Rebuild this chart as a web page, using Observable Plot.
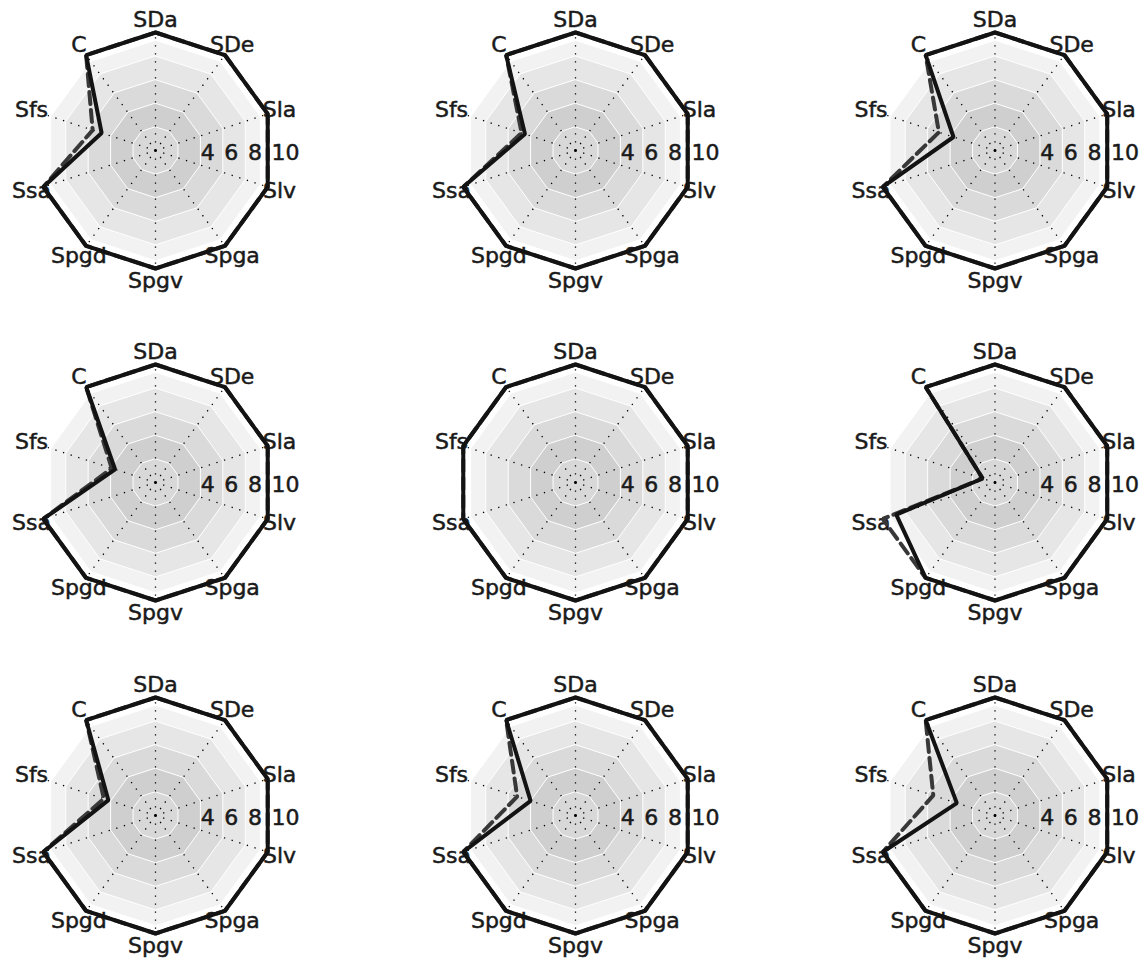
<!DOCTYPE html>
<html><head><meta charset="utf-8">
<script src="https://cdn.jsdelivr.net/npm/d3@7"></script>
<script src="https://cdn.jsdelivr.net/npm/@observablehq/plot@0.6"></script>
<style>html,body{margin:0;padding:0;background:#fff}svg{display:block}</style>
</head><body><div id="chart"></div>
<script>
// ---- data ----
const axes = ["SDa","SDe","Sla","Slv","Spga","Spgv","Spgd","Ssa","Sfs","C"];
const ringValues = [2, 4, 6, 8];
const bandEdges = [9.3, 8, 6, 4, 2];
const tickLabels = [4, 6, 8, 10];
const spokeLength = 9.6;
const labelRadius = 11.05;

// values per panel, in axis order (solid series, dashed series)
const solid1  = [10,10,10,10,10,10,10,10,4.8,10];
const dashed1 = [10,10,10,10,10,10,10,10,5.6,10];
const solid2  = [10,10,10,10,10,10,10,10,4.5,10];
const dashed2 = [10,10,10,10,10,10,10,10,4.8,10];
const solid3  = [10,10,10,10,10,10,10,10,3.7,10];
const dashed3 = [10,10,10,10,10,10,10,10,5.0,10];
const solid4  = [10,10,10,10,10,10,10,10,3.6,10];
const dashed4 = [10,10,10,10,10,10,10,10,3.9,10];
const solid5  = [10,10,10,10,10,10,10,10,10,10];
const dashed5 = [10,10,10,10,10,10,10,10,10,10];
const solid6  = [10,10,10,10,10,10,10,8.8,1.1,10];
const dashed6 = [10,10,10,10,10,10,10,10,1.1,10];
const solid7  = [10,10,10,10,10,10,10,10,4.2,10];
const dashed7 = [10,10,10,10,10,10,10,10,4.6,10];
const solid8  = [10,10,10,10,10,10,10,10,4.0,10];
const dashed8 = [10,10,10,10,10,10,10,10,5.2,10];
const solid9  = [10,10,10,10,10,10,10,10,3.4,10];
const dashed9 = [10,10,10,10,10,10,10,10,5.5,10];

const solidSeries  = [solid1, solid2, solid3, solid4, solid5, solid6, solid7, solid8, solid9];
const dashedSeries = [dashed1, dashed2, dashed3, dashed4, dashed5, dashed6, dashed7, dashed8, dashed9];

// ---- layout ----
const W = 1142, H = 961;
const u = 11.8;                       // pixels per value unit
const colCenters = [155, 575, 994.5];
const rowCenters = [150, 482, 815];
const bandColors = ["#f2f2f2", "#e6e6e6", "#dadada", "#cfcfcf", "#d8d8d8"];

const n = axes.length;
const ang = i => 2 * Math.PI * i / n;
function pt(panel, v, i) {
  const c = panel % 3, r = Math.floor(panel / 3);
  return {x: colCenters[c] / u + v * Math.sin(ang(i)), y: -rowCenters[r] / u + v * Math.cos(ang(i))};
}
const panels = d3.range(9);

function ringRows(value) {
  const rows = [];
  for (const p of panels) for (let i = 0; i < n; i++) rows.push({panel: p, ...pt(p, value, i)});
  return rows;
}
function seriesRows(list) {
  const rows = [];
  list.forEach((vals, p) => {
    for (let i = 0; i <= n; i++) rows.push({panel: p, ...pt(p, vals[i % n], i % n)});
  });
  return rows;
}

const marks = [];
bandEdges.forEach((e, k) => {
  marks.push(Plot.line(ringRows(e), {x: "x", y: "y", z: "panel", curve: "linear-closed", fill: bandColors[k], stroke: "none"}));
});
ringValues.forEach(e => {
  marks.push(Plot.line(ringRows(e), {x: "x", y: "y", z: "panel", curve: "linear-closed", fill: "none", stroke: "#ffffff", strokeWidth: 1}));
});

const spokes = [];
for (const p of panels) for (let i = 0; i < n; i++) {
  const a = pt(p, 0, i), b = pt(p, spokeLength, i);
  spokes.push({x1: a.x, y1: a.y, x2: b.x, y2: b.y});
}
marks.push(Plot.link(spokes, {x1: "x1", y1: "y1", x2: "x2", y2: "y2", stroke: "#000", strokeWidth: 1.3, strokeDasharray: "1.3,6.7", strokeLinecap: "butt"}));

const ticks = [];
for (const p of panels) for (const t of tickLabels) {
  const c = pt(p, 0, 0);
  ticks.push({x: c.x + t, y: c.y, text: String(t)});
}
marks.push(Plot.text(ticks, {x: "x", y: "y", text: "text", textAnchor: "start", dx: -2, dy: 2, fontSize: 22, fontFamily: "DejaVu Sans", fill: "#1a1a1a", stroke: "#1a1a1a", strokeWidth: 0.5}));

const labels = [];
for (const p of panels) axes.forEach((name, i) => labels.push({...pt(p, labelRadius, i), text: name}));
marks.push(Plot.text(labels, {x: "x", y: "y", text: "text", fontSize: 22, fontFamily: "DejaVu Sans", fill: "#1a1a1a", stroke: "#1a1a1a", strokeWidth: 0.5}));

marks.push(Plot.line(seriesRows(dashedSeries), {x: "x", y: "y", z: "panel", stroke: "#383838", strokeWidth: 4, strokeDasharray: "12,6", strokeLinejoin: "miter"}));
marks.push(Plot.line(seriesRows(solidSeries), {x: "x", y: "y", z: "panel", stroke: "#131313", strokeWidth: 4, strokeLinejoin: "miter"}));

const chart = Plot.plot({
  width: W, height: H,
  marginTop: 0, marginRight: 0, marginBottom: 0, marginLeft: 0,
  x: {domain: [0, W / u], range: [0, W], axis: null},
  y: {domain: [-H / u, 0], range: [H, 0], axis: null},
  style: {background: "#fff"},
  marks
});
document.getElementById("chart").appendChild(chart);
</script>
</body></html>
